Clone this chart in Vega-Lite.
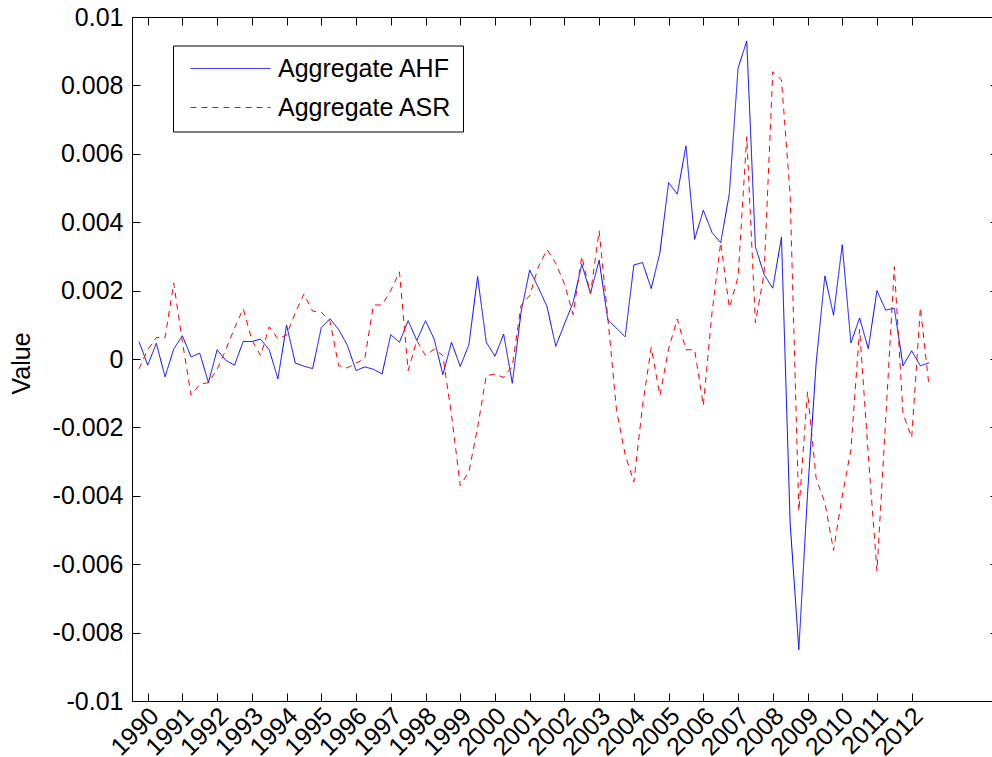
{
  "$schema": "https://vega.github.io/schema/vega-lite/v6.json",
  "width": 860,
  "height": 684,
  "autosize": {"type": "none"},
  "padding": {"left": 132, "top": 17, "right": 0, "bottom": 56},
  "background": "white",
  "config": {
    "view": {"stroke": null},
    "font": "Liberation Sans",
    "axis": {"grid": false, "domainColor": "black", "tickColor": "black", "labelColor": "black", "labelFont": "Liberation Sans", "labelFontSize": 25, "domainWidth": 1, "tickWidth": 1, "titleFont": "Liberation Sans", "titleFontWeight": "normal", "titleColor": "black", "titleFontSize": 25}
  },
  "title": {"text": "(a) Aggregate AHF and ASR", "anchor": "middle", "frame": "group", "dx": 3, "offset": 19, "baseline": "alphabetic", "fontSize": 25, "font": "Liberation Sans", "fontWeight": "normal", "color": "black"},
  "data": {"values": [
    {"i":0,"AHF":0.00051,"ASR":-0.00029},{"i":1,"AHF":-0.00018,"ASR":0.00027},{"i":2,"AHF":0.00046,"ASR":0.00063},{"i":3,"AHF":-0.00052,"ASR":0.00062},
    {"i":4,"AHF":0.00029,"ASR":0.00222},{"i":5,"AHF":0.00068,"ASR":0.0005},{"i":6,"AHF":0.00006,"ASR":-0.00106},{"i":7,"AHF":0.00017,"ASR":-0.00074},
    {"i":8,"AHF":-0.00069,"ASR":-0.00069},{"i":9,"AHF":0.00027,"ASR":-0.0003},{"i":10,"AHF":-0.00004,"ASR":0.00027},{"i":11,"AHF":-0.00018,"ASR":0.0009},
    {"i":12,"AHF":0.00051,"ASR":0.00147},{"i":13,"AHF":0.00051,"ASR":0.00056},{"i":14,"AHF":0.00058,"ASR":0.0001},{"i":15,"AHF":0.00027,"ASR":0.00094},
    {"i":16,"AHF":-0.00058,"ASR":0.00059},{"i":17,"AHF":0.00099,"ASR":0.0007},{"i":18,"AHF":-0.00012,"ASR":0.00135},{"i":19,"AHF":-0.00021,"ASR":0.0019},
    {"i":20,"AHF":-0.00028,"ASR":0.0014},{"i":21,"AHF":0.00092,"ASR":0.00137},{"i":22,"AHF":0.00118,"ASR":0.0011},{"i":23,"AHF":0.00086,"ASR":-0.0002},
    {"i":24,"AHF":0.0004,"ASR":-0.00026},{"i":25,"AHF":-0.00034,"ASR":-0.00012},{"i":26,"AHF":-0.00023,"ASR":0.0},{"i":27,"AHF":-0.0003,"ASR":0.00158},
    {"i":28,"AHF":-0.00044,"ASR":0.00158},{"i":29,"AHF":0.00071,"ASR":0.002},{"i":30,"AHF":0.00049,"ASR":0.00255},{"i":31,"AHF":0.00112,"ASR":-0.00034},
    {"i":32,"AHF":0.00054,"ASR":0.00054},{"i":33,"AHF":0.00112,"ASR":0.0001},{"i":34,"AHF":0.00058,"ASR":0.00029},{"i":35,"AHF":-0.00046,"ASR":0.0001},
    {"i":36,"AHF":0.00049,"ASR":-0.00165},{"i":37,"AHF":-0.00022,"ASR":-0.0037},{"i":38,"AHF":0.00042,"ASR":-0.0033},{"i":39,"AHF":0.00241,"ASR":-0.002},
    {"i":40,"AHF":0.00049,"ASR":-0.00049},{"i":41,"AHF":0.00008,"ASR":-0.00044},{"i":42,"AHF":0.00073,"ASR":-0.00054},{"i":43,"AHF":-0.00071,"ASR":-0.0002},
    {"i":44,"AHF":0.00136,"ASR":0.00156},{"i":45,"AHF":0.0026,"ASR":0.00185},{"i":46,"AHF":0.00209,"ASR":0.0027},{"i":47,"AHF":0.00153,"ASR":0.0032},
    {"i":48,"AHF":0.00037,"ASR":0.0028},{"i":49,"AHF":0.00102,"ASR":0.0022},{"i":50,"AHF":0.00165,"ASR":0.0013},{"i":51,"AHF":0.00277,"ASR":0.003},
    {"i":52,"AHF":0.00192,"ASR":0.0019},{"i":53,"AHF":0.00289,"ASR":0.00375},{"i":54,"AHF":0.00114,"ASR":0.0012},{"i":55,"AHF":0.0009,"ASR":-0.0015},
    {"i":56,"AHF":0.00065,"ASR":-0.0028},{"i":57,"AHF":0.00275,"ASR":-0.0036},{"i":58,"AHF":0.00282,"ASR":-0.00136},{"i":59,"AHF":0.00206,"ASR":0.00034},
    {"i":60,"AHF":0.00311,"ASR":-0.00107},{"i":61,"AHF":0.00516,"ASR":0.0003},{"i":62,"AHF":0.00482,"ASR":0.00117},{"i":63,"AHF":0.00623,"ASR":0.00027},
    {"i":64,"AHF":0.0035,"ASR":0.00027},{"i":65,"AHF":0.00435,"ASR":-0.00136},{"i":66,"AHF":0.0037,"ASR":0.00136},{"i":67,"AHF":0.0034,"ASR":0.0034},
    {"i":68,"AHF":0.00484,"ASR":0.0015},{"i":69,"AHF":0.0085,"ASR":0.0024},{"i":70,"AHF":0.0093,"ASR":0.0065},{"i":71,"AHF":0.00328,"ASR":0.00106},
    {"i":72,"AHF":0.00247,"ASR":0.0025},{"i":73,"AHF":0.00207,"ASR":0.0084},{"i":74,"AHF":0.00356,"ASR":0.00816},{"i":75,"AHF":-0.0048,"ASR":0.0048},
    {"i":76,"AHF":-0.0085,"ASR":-0.00445},{"i":77,"AHF":-0.00396,"ASR":-0.00096},{"i":78,"AHF":-0.0001,"ASR":-0.0035},{"i":79,"AHF":0.00243,"ASR":-0.0042},
    {"i":80,"AHF":0.00128,"ASR":-0.0056},{"i":81,"AHF":0.00334,"ASR":-0.004},{"i":82,"AHF":0.00047,"ASR":-0.00265},{"i":83,"AHF":0.0012,"ASR":0.00087},
    {"i":84,"AHF":0.0003,"ASR":-0.0028},{"i":85,"AHF":0.002,"ASR":-0.0062},{"i":86,"AHF":0.00143,"ASR":-0.0018},{"i":87,"AHF":0.00148,"ASR":0.0027},
    {"i":88,"AHF":-0.0002,"ASR":-0.0016},{"i":89,"AHF":0.00024,"ASR":-0.0023},{"i":90,"AHF":-0.0002,"ASR":0.0015},{"i":91,"AHF":-0.00011,"ASR":-0.0008}
  ]},
  "transform": [{"fold": ["AHF", "ASR"], "as": ["series", "value"]}],
  "resolve": {"axis": {"x": "independent", "y": "independent"}},
  "layer": [
    {
      "mark": {"type": "line", "strokeWidth": 1},
      "encoding": {
        "x": {"field": "i", "type": "quantitative",
              "scale": {"domain": [-0.806, 98.25], "nice": false, "zero": false},
              "axis": {"orient": "bottom", "title": null, "values": [1,5,9,13,17,21,25,29,33,37,41,45,49,53,57,61,65,69,73,77,81,85,89],
                       "labelExpr": "1990 + (datum.value - 1) / 4", "labelAngle": -45, "labelAlign": "right", "labelBaseline": "top",
                       "tickSize": -8, "labelPadding": 10, "labelOffset": -2, "labelFlush": false, "labelOverlap": false}},
        "y": {"field": "value", "type": "quantitative",
              "scale": {"domain": [-0.01, 0.01], "nice": false, "zero": false},
              "axis": {"orient": "left", "title": "Value", "values": [-0.01,-0.008,-0.006,-0.004,-0.002,0,0.002,0.004,0.006,0.008,0.01],
                       "labelExpr": "datum.value + ''", "tickSize": -8, "labelPadding": 17, "labelFlush": false, "labelOverlap": false,
                       "titleX": -111, "titleY": 346, "titleAngle": -90, "titleAlign": "center", "titleBaseline": "middle"}},
        "color": {"field": "series", "type": "nominal",
                  "scale": {"domain": ["AHF", "ASR"], "range": ["#0000ff", "#ff0000"]},
                  "legend": {"orient": "none", "legendX": 41, "legendY": 28.5, "title": null, "labelExpr": "'Aggregate ' + datum.label",
                             "symbolType": "stroke", "symbolSize": 6400, "symbolStrokeWidth": 1, "clipHeight": 24, "rowPadding": 14,
                             "padding": 11, "symbolOffset": 6, "labelOffset": 7, "labelFontSize": 25, "labelFont": "Liberation Sans",
                             "labelColor": "black", "strokeColor": "black", "fillColor": "white", "labelLimit": 400}},
        "strokeDash": {"field": "series", "type": "nominal",
                       "scale": {"domain": ["AHF", "ASR"], "range": [[1, 0], [6, 5]]},
                       "legend": {"orient": "none", "legendX": 41, "legendY": 28.5, "title": null, "labelExpr": "'Aggregate ' + datum.label",
                             "symbolType": "stroke", "symbolSize": 6400, "symbolStrokeWidth": 1, "clipHeight": 24, "rowPadding": 14,
                             "padding": 11, "symbolOffset": 6, "labelOffset": 7, "labelFontSize": 25, "labelFont": "Liberation Sans",
                             "labelColor": "black", "strokeColor": "black", "fillColor": "white", "labelLimit": 400}}
      }
    },
    {
      "mark": {"type": "point", "opacity": 0},
      "encoding": {
        "x": {"field": "i", "type": "quantitative",
              "axis": {"orient": "top", "title": null, "values": [1,5,9,13,17,21,25,29,33,37,41,45,49,53,57,61,65,69,73,77,81,85,89],
                       "labels": false, "tickSize": -8}},
        "y": {"field": "value", "type": "quantitative",
              "axis": {"orient": "right", "title": null, "values": [-0.01,-0.008,-0.006,-0.004,-0.002,0,0.002,0.004,0.006,0.008,0.01],
                       "labels": false, "domain": false, "tickSize": -2}}
      }
    }
  ]
}
